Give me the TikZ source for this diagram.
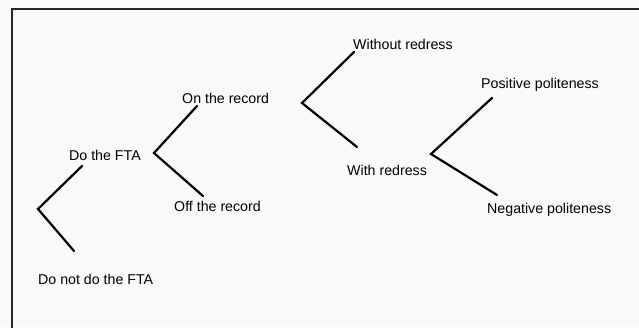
\documentclass[tikz,border=0pt]{standalone}
\usepackage{fontspec}
\setmainfont{Liberation Sans}
\begin{document}
\begin{tikzpicture}[x=1pt,y=-1pt,
  label/.style={anchor=base west,inner sep=0pt,font=\fontsize{14.2}{16}\selectfont},
  branch/.style={line width=2.2pt,line cap=round,line join=miter}]
  % page and frame
  \useasboundingbox (0,0) rectangle (639,327);
  \fill[gray!5] (0,0) rectangle (639,327);
  \begin{scope}
    \clip (0,0) rectangle (639,327);
    \draw[line width=2pt,black!85] (11.5,340) -- (11.5,8.5) -- (660,8.5);
  \end{scope}

  % labels
  \node[label] (nodo)  at (38,284)  {Do not do the FTA};
  \node[label] (do)    at (69,160)  {Do the FTA};
  \node[label] (on)    at (182,103) {On the record};
  \node[label] (off)   at (174,211) {Off the record};
  \node[label] (wout)  at (353,49)  {Without redress};
  \node[label] (with)  at (347,175) {With redress};
  \node[label] (pos)   at (481,88)  {Positive politeness};
  \node[label] (neg)   at (487,213) {Negative politeness};

  % branch points and branch ends
  \coordinate (v1) at (38,209);  \coordinate (v1a) at (82,166);  \coordinate (v1b) at (74,251);
  \coordinate (v2) at (154,153); \coordinate (v2a) at (197,106); \coordinate (v2b) at (203,196);
  \coordinate (v3) at (302,103); \coordinate (v3a) at (354,52);  \coordinate (v3b) at (357,147);
  \coordinate (v4) at (431,154); \coordinate (v4a) at (492,98);  \coordinate (v4b) at (497,195);

  \draw[branch] (v1a) -- (v1) -- (v1b);
  \draw[branch] (v2a) -- (v2) -- (v2b);
  \draw[branch] (v3a) -- (v3) -- (v3b);
  \draw[branch] (v4a) -- (v4) -- (v4b);
\end{tikzpicture}
\end{document}
